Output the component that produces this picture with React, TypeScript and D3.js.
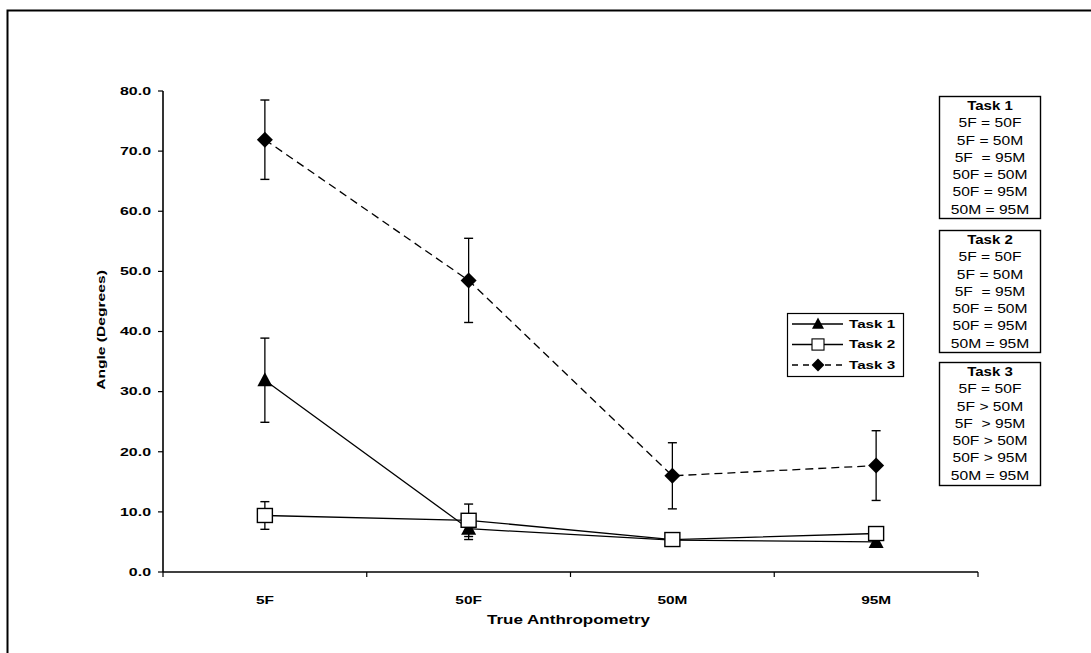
import React from "react";
import * as d3 from "d3";

const categories = ["5F", "50F", "50M", "95M"];
const task1 = [31.9, 7.2, 5.3, 5.0];
const task1Err = [7.0, 1.8, 0.4, 0.4];
const task2 = [9.4, 8.6, 5.4, 6.4];
const task2Err = [2.3, 2.7, 0.5, 0.5];
const task3 = [71.9, 48.5, 16.0, 17.7];
const task3Err = [6.6, 7.0, 5.5, 5.8];
const yTicks = [0, 10, 20, 30, 40, 50, 60, 70, 80];

const box1Title = "Task 1";
const box1Lines = ["5F = 50F", "5F = 50M", "5F  = 95M", "50F = 50M", "50F = 95M", "50M = 95M"];
const box2Title = "Task 2";
const box2Lines = ["5F = 50F", "5F = 50M", "5F  = 95M", "50F = 50M", "50F = 95M", "50M = 95M"];
const box3Title = "Task 3";
const box3Lines = ["5F = 50F", "5F > 50M", "5F  > 95M", "50F > 50M", "50F > 95M", "50M = 95M"];

const FONT = "'Liberation Sans', Arial, Helvetica, sans-serif";

const left = 163, right = 978, top = 91, bottom = 572;

function SText({ x, y, sx, anchor, size, bold, rotate, children }: any) {
  return (
    <text
      transform={`translate(${x},${y})${rotate ? ` rotate(${rotate})` : ""} scale(${sx},1)`}
      dy="0.35em"
      textAnchor={anchor || "start"}
      fontSize={size}
      fontWeight={bold ? "bold" : "normal"}
      style={{ whiteSpace: "pre" }}
    >
      {children}
    </text>
  );
}

function Marker({ type, x, y }: { type: string; x: number; y: number }) {
  if (type === "tri") {
    return <path d={`M${x},${y - 8} L${x + 7.5},${y + 6} L${x - 7.5},${y + 6} Z`} fill="#000" />;
  }
  if (type === "sq") {
    return <rect x={x - 7.5} y={y - 7} width={15} height={14} fill="#fff" stroke="#000" strokeWidth={1.4} />;
  }
  return <path d={`M${x},${y - 8} L${x + 8},${y} L${x},${y + 8} L${x - 8},${y} Z`} fill="#000" />;
}

export default function App() {
  const x = d3.scaleBand<string>().domain(categories).range([left, right]);
  const y = d3.scaleLinear().domain([0, 80]).range([bottom, top]);
  const cx = (c: string) => (x(c) as number) + x.bandwidth() / 2;
  const line = d3.line<number>().x((_, i) => cx(categories[i])).y((v) => y(v));

  const series = [
    { vals: task3, errs: task3Err, marker: "dia", dash: "8,5" },
    { vals: task1, errs: task1Err, marker: "tri", dash: undefined },
    { vals: task2, errs: task2Err, marker: "sq", dash: undefined },
  ];

  const boxes = [
    { title: box1Title, lines: box1Lines, y0: 96, y1: 218 },
    { title: box2Title, lines: box2Lines, y0: 230, y1: 352 },
    { title: box3Title, lines: box3Lines, y0: 362, y1: 485 },
  ];

  const boundaries = categories.map((c) => x(c) as number).concat([right]);

  return (
    <svg width={1091} height={653} style={{ position: "absolute", left: 0, top: 0, background: "#fff" }} fontFamily={FONT}>
      <rect x={0} y={0} width={1091} height={653} fill="#fff" />
      {/* outer frame */}
      <path d="M7.5,660 L7.5,10.5 L1091,10.5" fill="none" stroke="#000" strokeWidth={2} />

      {/* axes */}
      <line x1={left} x2={left} y1={top} y2={bottom} stroke="#000" strokeWidth={1.6} />
      <line x1={left} x2={right} y1={bottom} y2={bottom} stroke="#000" strokeWidth={1.6} />
      {yTicks.map((t) => (
        <g key={t}>
          <line x1={left - 5} x2={left} y1={y(t)} y2={y(t)} stroke="#000" strokeWidth={1.2} />
          <SText x={left - 12} y={y(t)} sx={1.45} anchor="end" size={11} bold>
            {t.toFixed(1)}
          </SText>
        </g>
      ))}
      {boundaries.map((b, i) => (
        <line key={i} x1={b} x2={b} y1={bottom} y2={bottom + 5} stroke="#000" strokeWidth={1.2} />
      ))}
      {categories.map((c) => (
        <SText key={c} x={cx(c)} y={600} sx={1.4} anchor="middle" size={11} bold>
          {c}
        </SText>
      ))}
      <SText x={(left + right) / 2 - 2} y={620} sx={1.42} anchor="middle" size={12} bold>
        True Anthropometry
      </SText>
      <SText x={101} y={330} sx={1.42} rotate={-90} anchor="middle" size={11} bold>
        Angle (Degrees)
      </SText>

      {/* series */}
      {series.map((s, si) => (
        <g key={si}>
          <path d={line(s.vals) || ""} fill="none" stroke="#000" strokeWidth={1.3} strokeDasharray={s.dash} />
          {s.vals.map((v, i) => {
            const px = cx(categories[i]);
            const y1 = y(v + s.errs[i]);
            const y2 = y(v - s.errs[i]);
            return (
              <g key={i}>
                <line x1={px} x2={px} y1={y1} y2={y2} stroke="#000" strokeWidth={1.3} />
                <line x1={px - 4.5} x2={px + 4.5} y1={y1} y2={y1} stroke="#000" strokeWidth={1.4} />
                <line x1={px - 4.5} x2={px + 4.5} y1={y2} y2={y2} stroke="#000" strokeWidth={1.4} />
              </g>
            );
          })}
          {s.vals.map((v, i) => (
            <Marker key={"m" + i} type={s.marker} x={cx(categories[i])} y={y(v)} />
          ))}
        </g>
      ))}

      {/* legend */}
      <rect x={787.5} y={313.5} width={116} height={63} fill="#fff" stroke="#000" strokeWidth={1.2} />
      {[
        { label: "Task 1", marker: "tri", dash: undefined as string | undefined },
        { label: "Task 2", marker: "sq", dash: undefined },
        { label: "Task 3", marker: "dia", dash: "6,5" },
      ].map((l, i) => {
        const ly = 324 + i * 20.5;
        return (
          <g key={l.label}>
            <line x1={792} x2={843} y1={ly} y2={ly} stroke="#000" strokeWidth={1.3} strokeDasharray={l.dash} />
            <g transform={`translate(818,${ly}) scale(0.8) translate(-818,${-ly})`}>
              <Marker type={l.marker} x={818} y={ly} />
            </g>
            <SText x={849} y={ly} sx={1.38} size={11} bold>
              {l.label}
            </SText>
          </g>
        );
      })}

      {/* stats boxes */}
      {boxes.map((b, bi) => (
        <g key={bi}>
          <rect x={939.5} y={b.y0 + 0.5} width={101} height={b.y1 - b.y0} fill="#fff" stroke="#000" strokeWidth={1.4} />
          <SText x={990} y={b.y0 + 10} sx={1.2} anchor="middle" size={12.5} bold>
            {b.title}
          </SText>
          {b.lines.map((t, i) => (
            <SText key={i} x={990} y={b.y0 + 27 + i * 17.3} sx={1.3} anchor="middle" size={12}>
              {t}
            </SText>
          ))}
        </g>
      ))}
    </svg>
  );
}
